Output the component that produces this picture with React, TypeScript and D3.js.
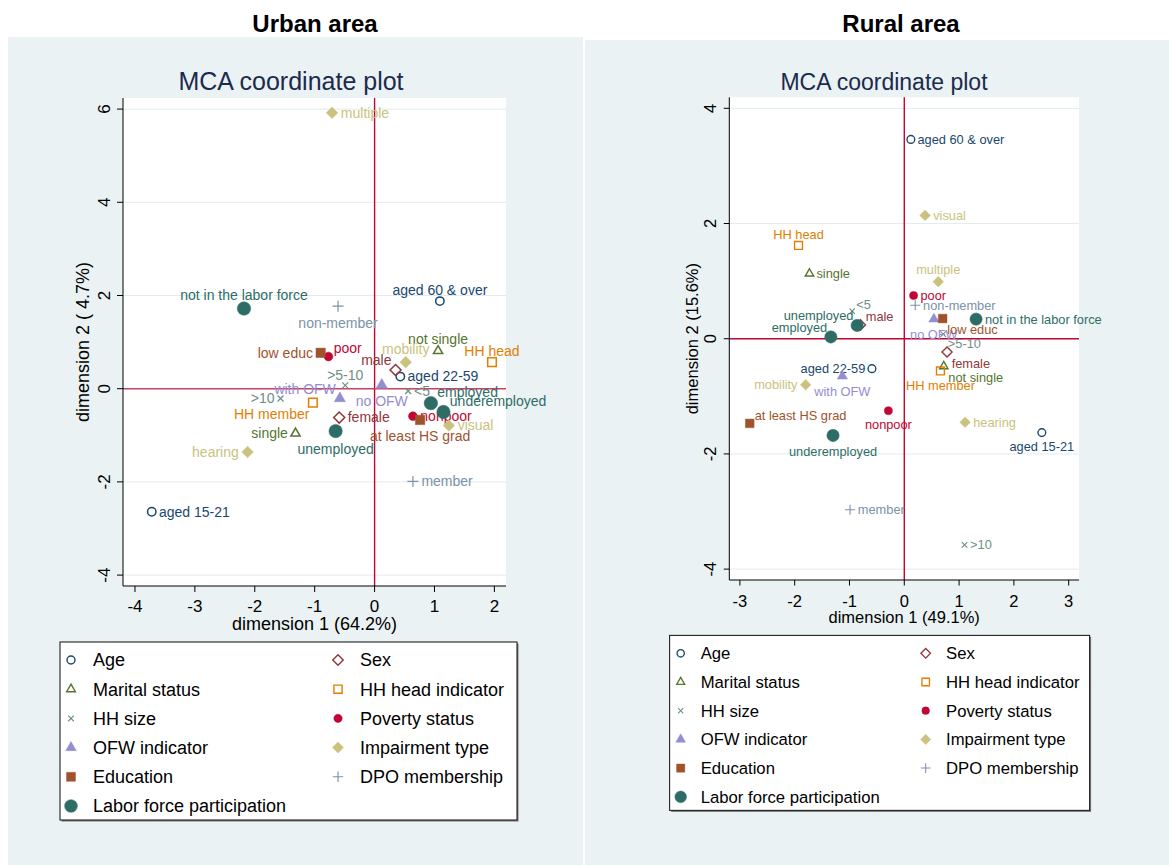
import React from 'react';
import * as d3 from 'd3';

// variable groups, in Stata plotting order (legend is filled row by row)
const groups = [
  'Age', 'Sex', 'Marital status', 'HH head indicator', 'HH size', 'Poverty status',
  'OFW indicator', 'Impairment type', 'Education', 'DPO membership', 'Labor force participation'
];

// [group, category label, dimension 1, dimension 2]
const urbanPoints: [string, string, number, number][] = [
  ['Age', 'aged 15-21', -3.72, -2.64],
  ['Age', 'aged 22-59', 0.43, 0.26],
  ['Age', 'aged 60 & over', 1.09, 1.88],
  ['Sex', 'male', 0.35, 0.40],
  ['Sex', 'female', -0.59, -0.62],
  ['Marital status', 'single', -1.32, -0.96],
  ['Marital status', 'not single', 1.06, 0.81],
  ['HH head indicator', 'HH head', 1.96, 0.57],
  ['HH head indicator', 'HH member', -1.03, -0.30],
  ['HH size', '<5', 0.56, -0.05],
  ['HH size', '>5-10', -0.49, 0.07],
  ['HH size', '>10', -1.57, -0.21],
  ['Poverty status', 'poor', -0.77, 0.69],
  ['Poverty status', 'nonpoor', 0.64, -0.59],
  ['OFW indicator', 'with OFW', -0.58, -0.21],
  ['OFW indicator', 'no OFW', 0.12, 0.08],
  ['Impairment type', 'multiple', -0.71, 5.92],
  ['Impairment type', 'mobility', 0.52, 0.57],
  ['Impairment type', 'visual', 1.24, -0.79],
  ['Impairment type', 'hearing', -2.12, -1.36],
  ['Education', 'low educ', -0.90, 0.77],
  ['Education', 'at least HS grad', 0.76, -0.67],
  ['DPO membership', 'member', 0.64, -1.99],
  ['DPO membership', 'non-member', -0.61, 1.77],
  ['Labor force participation', 'employed', 0.94, -0.31],
  ['Labor force participation', 'underemployed', 1.15, -0.50],
  ['Labor force participation', 'unemployed', -0.65, -0.91],
  ['Labor force participation', 'not in the labor force', -2.18, 1.72],
];

const ruralPoints: [string, string, number, number][] = [
  ['Age', 'aged 60 & over', 0.12, 3.46],
  ['Age', 'aged 22-59', -0.59, -0.52],
  ['Age', 'aged 15-21', 2.51, -1.63],
  ['Sex', 'male', -0.80, 0.24],
  ['Sex', 'female', 0.78, -0.23],
  ['Marital status', 'single', -1.73, 1.13],
  ['Marital status', 'not single', 0.72, -0.48],
  ['HH head indicator', 'HH head', -1.93, 1.62],
  ['HH head indicator', 'HH member', 0.66, -0.56],
  ['HH size', '<5', -0.95, 0.48],
  ['HH size', '>5-10', 0.71, 0.08],
  ['HH size', '>10', 1.10, -3.58],
  ['Poverty status', 'poor', 0.17, 0.75],
  ['Poverty status', 'nonpoor', -0.29, -1.25],
  ['OFW indicator', 'with OFW', -1.13, -0.65],
  ['OFW indicator', 'no OFW', 0.54, 0.34],
  ['Impairment type', 'visual', 0.38, 2.14],
  ['Impairment type', 'multiple', 0.62, 0.99],
  ['Impairment type', 'mobility', -1.80, -0.80],
  ['Impairment type', 'hearing', 1.11, -1.45],
  ['Education', 'low educ', 0.70, 0.35],
  ['Education', 'at least HS grad', -2.82, -1.47],
  ['DPO membership', 'member', -0.99, -2.97],
  ['DPO membership', 'non-member', 0.20, 0.58],
  ['Labor force participation', 'employed', -1.34, 0.03],
  ['Labor force participation', 'unemployed', -0.86, 0.23],
  ['Labor force participation', 'underemployed', -1.30, -1.68],
  ['Labor force participation', 'not in the labor force', 1.31, 0.34],
];

// marker label clock positions (Stata mlabvposition)
const urbanClock: Record<string, number> = {
  'aged 15-21': 3, 'aged 22-59': 3, 'aged 60 & over': 12, 'male': 11, 'female': 3,
  'single': 9, 'not single': 12, 'HH head': 12, 'HH member': 7, '<5': 3, '>5-10': 12,
  '>10': 9, 'poor': 1, 'nonpoor': 3, 'with OFW': 11, 'no OFW': 6, 'multiple': 3,
  'mobility': 12, 'visual': 3, 'hearing': 9, 'low educ': 9, 'at least HS grad': 6,
  'member': 3, 'non-member': 6, 'employed': 1, 'underemployed': 2, 'unemployed': 6,
  'not in the labor force': 12
};

const ruralClock: Record<string, number> = {
  'aged 60 & over': 3, 'aged 22-59': 9, 'aged 15-21': 6, 'male': 1, 'female': 4,
  'single': 3, 'not single': 4, 'HH head': 12, 'HH member': 6, '<5': 1, '>5-10': 4,
  '>10': 3, 'poor': 3, 'nonpoor': 6, 'with OFW': 6, 'no OFW': 6, 'visual': 3,
  'multiple': 12, 'mobility': 9, 'hearing': 3, 'low educ': 4, 'at least HS grad': 1,
  'member': 3, 'non-member': 3, 'employed': 11, 'unemployed': 11, 'underemployed': 6,
  'not in the labor force': 3
};

const urbanXTicks = [-4, -3, -2, -1, 0, 1, 2];
const urbanYTicks = [-4, -2, 0, 2, 4, 6];
const ruralXTicks = [-3, -2, -1, 0, 1, 2, 3];
const ruralYTicks = [-4, -2, 0, 2, 4];

const FONT = '"Liberation Sans", Arial, Helvetica, sans-serif';
const BG = '#EAF2F3';

type Shape = 'circle' | 'diamond' | 'triangle' | 'square' | 'x' | 'plus';
const groupStyle: Record<string, { color: string; shape: Shape; fill: boolean; size: number }> = {
  'Age': { color: '#1A476F', shape: 'circle', fill: false, size: 4.2 },
  'Sex': { color: '#90353B', shape: 'diamond', fill: false, size: 5.5 },
  'Marital status': { color: '#55752F', shape: 'triangle', fill: false, size: 4.6 },
  'HH head indicator': { color: '#E37E00', shape: 'square', fill: false, size: 4.3 },
  'HH size': { color: '#6E8E84', shape: 'x', fill: false, size: 3 },
  'Poverty status': { color: '#C10534', shape: 'circle', fill: true, size: 4.4 },
  'OFW indicator': { color: '#938DD2', shape: 'triangle', fill: true, size: 5.6 },
  'Impairment type': { color: '#CAC27E', shape: 'diamond', fill: true, size: 5.8 },
  'Education': { color: '#A0522D', shape: 'square', fill: true, size: 4.7 },
  'DPO membership': { color: '#7B92A8', shape: 'plus', fill: false, size: 5.5 },
  'Labor force participation': { color: '#2D6D66', shape: 'circle', fill: true, size: 6.7 },
};

function shapePath(shape: Shape, s: number): string {
  const p = d3.path();
  if (shape === 'circle') {
    p.arc(0, 0, s, 0, Math.PI * 2);
  } else if (shape === 'diamond') {
    p.moveTo(0, -s); p.lineTo(s, 0); p.lineTo(0, s); p.lineTo(-s, 0); p.closePath();
  } else if (shape === 'square') {
    p.rect(-s, -s, 2 * s, 2 * s);
  } else if (shape === 'triangle') {
    const h = s * Math.sqrt(3);
    p.moveTo(0, -2 * h / 3); p.lineTo(s, h / 3); p.lineTo(-s, h / 3); p.closePath();
  } else if (shape === 'x') {
    p.moveTo(-s, -s); p.lineTo(s, s); p.moveTo(-s, s); p.lineTo(s, -s);
  } else {
    p.moveTo(-s, 0); p.lineTo(s, 0); p.moveTo(0, -s); p.lineTo(0, s);
  }
  return p.toString();
}

const Marker = ({ group, cx, cy, k }: { group: string; cx: number; cy: number; k: number }) => {
  const st = groupStyle[group];
  const line = st.shape === 'x' || st.shape === 'plus';
  return (
    <path
      transform={`translate(${cx},${cy})`}
      d={shapePath(st.shape, st.size * k)}
      fill={st.fill ? st.color : 'none'}
      stroke={st.color}
      strokeWidth={(st.fill ? 0.5 : line ? 1.2 : 1.5) * k}
    />
  );
};

function labelPos(clock: number, cx: number, cy: number, r: number, fs: number, k: number) {
  const c = fs * 0.35;
  switch (clock) {
    case 9: return { x: cx - r - 3 * k, y: cy + c, anchor: 'end' };
    case 12: return { x: cx, y: cy - r - 7 * k + c, anchor: 'middle' };
    case 6: return { x: cx, y: cy + r + 11 * k + c, anchor: 'middle' };
    case 1: case 2: return { x: cx + r * 0.5 + 3 * k, y: cy - r - 4 * k + c, anchor: 'start' };
    case 10: case 11: return { x: cx - 4 * k, y: cy - r - 4 * k + c, anchor: 'end' };
    case 4: case 5: return { x: cx + 5 * k, y: cy + r + 7.5 * k + c, anchor: 'start' };
    case 7: case 8: return { x: cx - 3.5 * k, y: cy + r + 7.5 * k + c, anchor: 'end' };
    default: return { x: cx + r + 3 * k, y: cy + c, anchor: 'start' };
  }
}

interface PanelCfg {
  k: number;
  left: number; right: number; top: number; bottom: number;
  xDomain: [number, number]; yDomain: [number, number];
  xTicks: number[]; yTicks: number[];
  titleX: number; titleY: number; titleSize: number;
  xTitle: string; xTitleY: number; yTitle: string; yTitleX: number; axisTitleSize: number;
  tickSize: number; xTickLabelY: number; yTickLabelX: number;
  labelSize: number;
  hLineColor: string;
  legend: { x: number; y: number; w: number; h: number; row0: number; step: number;
    sym1: number; txt1: number; sym2: number; txt2: number; fs: number };
}

const Panel = ({ cfg, points, clock }: { cfg: PanelCfg; points: [string, string, number, number][]; clock: Record<string, number> }) => {
  const { k } = cfg;
  const x = d3.scaleLinear().domain(cfg.xDomain).range([cfg.left, cfg.right]);
  const y = d3.scaleLinear().domain(cfg.yDomain).range([cfg.bottom, cfg.top]);
  const midY = (cfg.top + cfg.bottom) / 2;
  const lg = cfg.legend;
  return (
    <g fontFamily={FONT}>
      <text x={cfg.titleX} y={cfg.titleY} textAnchor="middle" fontSize={cfg.titleSize} fill="#1C2A4E">MCA coordinate plot</text>
      <rect x={cfg.left} y={cfg.top} width={cfg.right - cfg.left} height={cfg.bottom - cfg.top} fill="#fff" />
      {cfg.yTicks.map(t => (
        <line key={`g${t}`} x1={cfg.left} x2={cfg.right} y1={y(t)} y2={y(t)} stroke="#E2ECEF" strokeWidth={1} />
      ))}
      {/* reference lines */}
      <line x1={x(0)} x2={x(0)} y1={cfg.top} y2={cfg.bottom} stroke="#C10534" strokeWidth={1.4} />
      <line x1={cfg.left} x2={cfg.right} y1={y(0)} y2={y(0)} stroke={cfg.hLineColor} strokeWidth={1.4} />
      {/* axes */}
      <line x1={cfg.left} x2={cfg.left} y1={cfg.top} y2={cfg.bottom} stroke="#000" strokeWidth={1} />
      <line x1={cfg.left} x2={cfg.right} y1={cfg.bottom} y2={cfg.bottom} stroke="#000" strokeWidth={1} />
      {cfg.xTicks.map(t => (
        <g key={`x${t}`}>
          <line x1={x(t)} x2={x(t)} y1={cfg.bottom} y2={cfg.bottom + 6 * k} stroke="#000" />
          <text x={x(t)} y={cfg.xTickLabelY} textAnchor="middle" fontSize={cfg.tickSize} fill="#000">{t}</text>
        </g>
      ))}
      {cfg.yTicks.map(t => (
        <g key={`y${t}`}>
          <line x1={cfg.left - 6 * k} x2={cfg.left} y1={y(t)} y2={y(t)} stroke="#000" />
          <text transform={`translate(${cfg.yTickLabelX},${y(t)}) rotate(-90)`} dy="0.35em" textAnchor="middle" fontSize={cfg.tickSize} fill="#000">{t}</text>
        </g>
      ))}
      <text x={(cfg.left + cfg.right) / 2} y={cfg.xTitleY} textAnchor="middle" fontSize={cfg.axisTitleSize} fill="#000">{cfg.xTitle}</text>
      <text transform={`translate(${cfg.yTitleX},${midY}) rotate(-90)`} dy="0.35em" textAnchor="middle" fontSize={cfg.axisTitleSize} fill="#000" style={{ whiteSpace: 'pre' }}>{cfg.yTitle}</text>
      {/* points, one series per variable */}
      {groups.map(gname => (
        <g key={gname}>
          {points.filter(p => p[0] === gname).map(p => {
            const cx = x(p[2]);
            const cy = y(p[3]);
            const r = groupStyle[gname].size * k;
            const lp = labelPos(clock[p[1]] ?? 3, cx, cy, r, cfg.labelSize, k);
            return (
              <g key={p[1]}>
                <Marker group={gname} cx={cx} cy={cy} k={k} />
                <text x={lp.x} y={lp.y} textAnchor={lp.anchor as any} fontSize={cfg.labelSize} fill={groupStyle[gname].color}>{p[1]}</text>
              </g>
            );
          })}
        </g>
      ))}
      {/* legend, with the slight drop shadow of the Stata box */}
      <rect x={lg.x + 1.5} y={lg.y + 1.5} width={lg.w} height={lg.h} fill="#777" />
      <rect x={lg.x} y={lg.y} width={lg.w} height={lg.h} fill="#fff" stroke="#222" strokeWidth={1.1} />
      {groups.map((gname, i) => {
        const row = Math.floor(i / 2);
        const col = i % 2;
        const cy = lg.row0 + row * lg.step;
        return (
          <g key={`l${gname}`}>
            <Marker group={gname} cx={col === 0 ? lg.sym1 : lg.sym2} cy={cy} k={k * 0.95} />
            <text x={col === 0 ? lg.txt1 : lg.txt2} y={cy + lg.fs * 0.35} fontSize={lg.fs} fill="#000">{gname}</text>
          </g>
        );
      })}
    </g>
  );
};

const urbanCfg: PanelCfg = {
  k: 1,
  left: 123, right: 506, top: 98, bottom: 586,
  xDomain: [-4.2, 2.194], yDomain: [-4.234, 6.238],
  xTicks: urbanXTicks, yTicks: urbanYTicks,
  titleX: 291, titleY: 90, titleSize: 25,
  xTitle: 'dimension 1 (64.2%)', xTitleY: 630, yTitle: 'dimension 2 ( 4.7%)', yTitleX: 83, axisTitleSize: 18,
  tickSize: 17, xTickLabelY: 612, yTickLabelX: 104,
  labelSize: 14,
  hLineColor: '#CD3F63',
  legend: { x: 60, y: 642, w: 457, h: 178, row0: 660, step: 29.2, sym1: 71, txt1: 93, sym2: 338, txt2: 360, fs: 18 },
};

const ruralCfg: PanelCfg = {
  k: 0.92,
  left: 729.3, right: 1079, top: 97.3, bottom: 580,
  xDomain: [-3.193, 3.188], yDomain: [-4.189, 4.191],
  xTicks: ruralXTicks, yTicks: ruralYTicks,
  titleX: 884, titleY: 90, titleSize: 23,
  xTitle: 'dimension 1 (49.1%)', xTitleY: 623, yTitle: 'dimension 2 (15.6%)', yTitleX: 692, axisTitleSize: 16.5,
  tickSize: 16.5, xTickLabelY: 607, yTickLabelX: 710,
  labelSize: 12.8,
  hLineColor: '#C10534',
  legend: { x: 669.6, y: 635.4, w: 420, h: 175, row0: 653.3, step: 28.7, sym1: 680.7, txt1: 700.7, sym2: 925.7, txt2: 946, fs: 16.7 },
};

export default function App() {
  return (
    <svg width={1169} height={865} style={{ position: 'absolute', left: 0, top: 0, background: '#fff' }}>
      <rect x={8} y={37} width={575} height={828} fill={BG} />
      <rect x={585} y={40} width={584} height={825} fill={BG} />
      <text x={315} y={32} textAnchor="middle" fontFamily={FONT} fontWeight="bold" fontSize={24} fill="#000">Urban area</text>
      <text x={901} y={32} textAnchor="middle" fontFamily={FONT} fontWeight="bold" fontSize={24} fill="#000">Rural area</text>
      <Panel cfg={urbanCfg} points={urbanPoints} clock={urbanClock} />
      <Panel cfg={ruralCfg} points={ruralPoints} clock={ruralClock} />
    </svg>
  );
}
